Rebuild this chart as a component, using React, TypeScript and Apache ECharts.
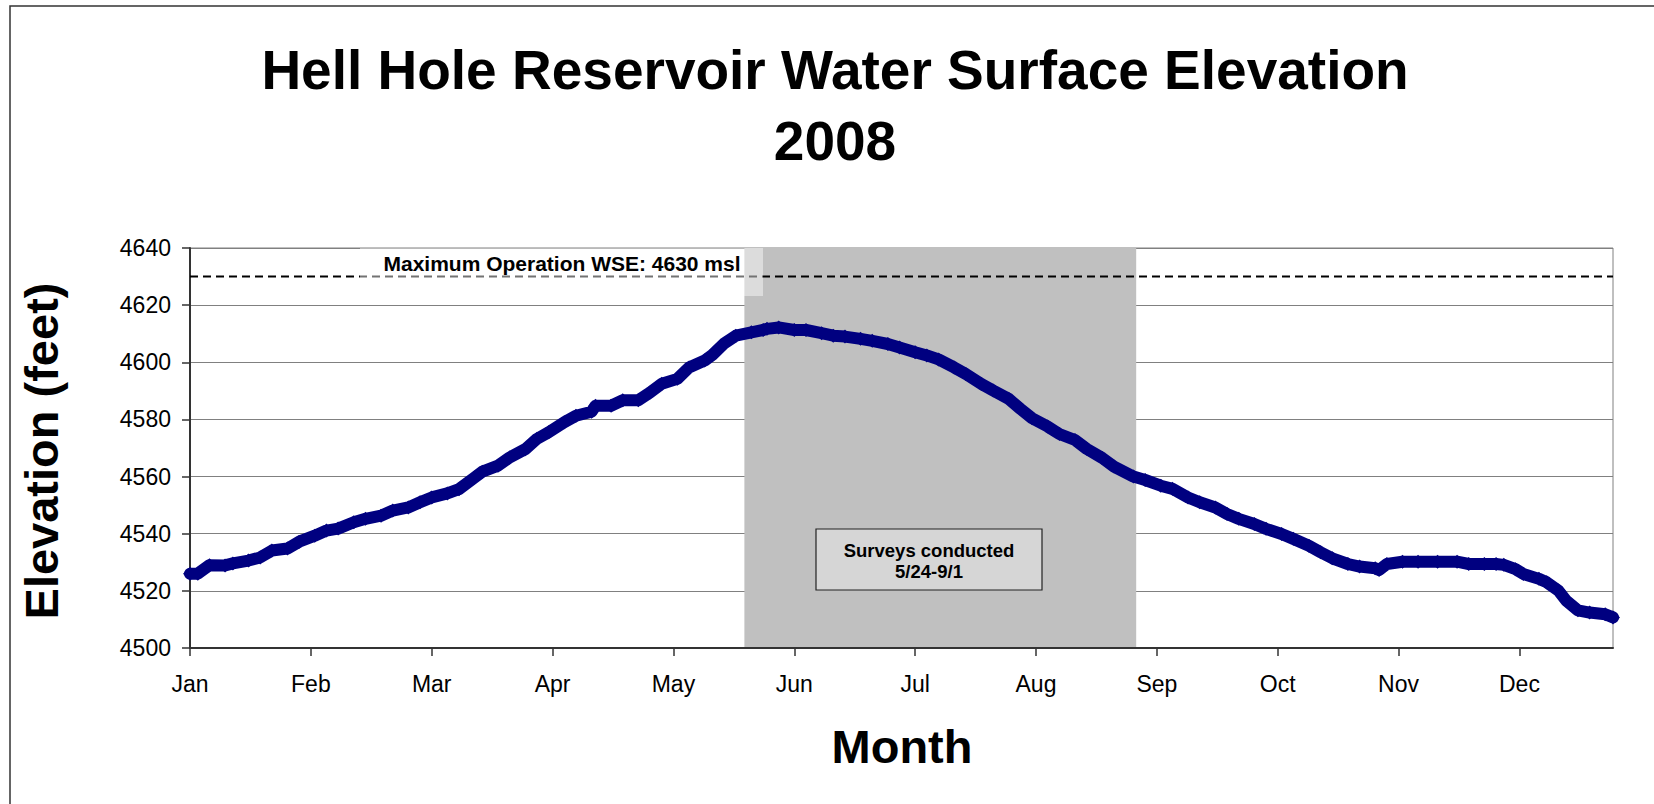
import React, { useEffect, useRef } from "react";
import * as echarts from "echarts";

// ---- Data ----
// Day of year 2008 (0 = Jan 1) and water surface elevation (feet)
const DAYS = [
  0, 2, 5, 9, 11, 15, 18, 21, 25, 28, 32, 35, 38, 42, 45, 49, 52, 56, 59, 62,
  66, 69, 73, 75, 79, 82, 86, 89, 92, 96, 99, 103, 104, 108, 111, 115, 118,
  121, 125, 128, 132, 134, 137, 140, 144, 147, 148, 151, 155, 158, 162, 165,
  168, 172, 175, 179, 182, 186, 189, 192, 196, 199, 203, 206, 210, 213, 216,
  220, 223, 227, 230, 234, 237, 242, 245, 249, 252, 256, 259, 263, 266, 269,
  273, 276, 280, 283, 287, 290, 293, 297, 300, 304, 305, 307, 311, 315, 320,
  325, 328, 332, 335, 337, 340, 342, 346, 348, 351, 353, 356, 359, 363, 365,
];
const ELEVATION = [
  4526.0, 4526.0, 4529.0, 4528.9, 4529.6, 4530.6, 4531.7, 4534.1, 4534.8,
  4537.2, 4539.3, 4541.1, 4541.8, 4544.0, 4545.2, 4546.3, 4548.1, 4549.2,
  4551.0, 4552.7, 4554.1, 4555.6, 4559.7, 4561.7, 4563.8, 4566.7, 4569.6,
  4573.2, 4575.5, 4579.0, 4581.3, 4582.7, 4584.8, 4584.8, 4586.7, 4586.7,
  4589.4, 4592.5, 4594.2, 4598.2, 4600.6, 4602.6, 4606.6, 4609.3, 4610.5,
  4611.3, 4611.7, 4612.2, 4611.3, 4611.3, 4610.2, 4609.3, 4609.0, 4608.2,
  4607.5, 4606.4, 4605.2, 4603.5, 4602.4, 4601.0, 4598.2, 4595.9, 4592.4,
  4590.1, 4587.2, 4583.7, 4580.4, 4577.5, 4574.9, 4572.8, 4569.7, 4566.5,
  4563.5, 4560.0, 4558.8, 4556.8, 4555.7, 4552.7, 4551.0, 4549.2, 4546.9,
  4545.2, 4543.4, 4541.7, 4539.9, 4538.2, 4535.8, 4533.5, 4531.4, 4529.4,
  4528.5, 4527.9, 4527.3, 4529.4, 4530.2, 4530.2, 4530.2, 4530.2, 4529.4,
  4529.4, 4529.4, 4529.1, 4527.6, 4525.9, 4524.2, 4523.0, 4520.1, 4516.6,
  4513.2, 4512.4, 4511.8, 4510.7,
];
const MONTHS = ["Jan", "Feb", "Mar", "Apr", "May", "Jun", "Jul", "Aug", "Sep", "Oct", "Nov", "Dec"];
const TICK_DAYS = [0, 31, 62, 93, 124, 155, 186, 217, 248, 279, 310, 341];
const X_MIN = 0;
const X_MAX = 365;
const Y_MIN = 4500;
const Y_MAX = 4640;
const Y_STEP = 20;
const MAX_WSE = 4630;
const SURVEY_START_DAY = 142.2;
const SURVEY_END_DAY = 242.7;

const TITLE_LINE1 = "Hell Hole Reservoir Water Surface Elevation";
const TITLE_LINE2 = "2008";
const X_TITLE = "Month";
const Y_TITLE = "Elevation (feet)";
const MAX_LABEL = "Maximum Operation WSE: 4630 msl";
const SURVEY_LABEL = "Surveys conducted\n5/24-9/1";

const FONT = '"Liberation Sans", Arial, Helvetica, sans-serif';

export default function App() {
  const ref = useRef<HTMLDivElement>(null);

  useEffect(() => {
    if (!ref.current) return;
    const chart = echarts.init(ref.current, null, { renderer: "svg" });
    const seriesData = DAYS.map((d, i) => [d, ELEVATION[i]]);

    chart.setOption({
      animation: false,
      backgroundColor: "#ffffff",
      textStyle: { fontFamily: FONT },
      grid: {
        left: 190,
        top: 248,
        right: 41,
        bottom: 156,
        show: true,
        borderColor: "#808080",
        borderWidth: 1,
        backgroundColor: "transparent",
        z: 1,
      },
      xAxis: {
        type: "value",
        min: X_MIN,
        max: X_MAX,
        z: 1,
        axisLine: { show: true, onZero: false, lineStyle: { color: "#333333", width: 2 } },
        axisTick: {
          show: true,
          customValues: TICK_DAYS,
          length: 8,
          lineStyle: { color: "#333333", width: 1.5 },
        },
        axisLabel: {
          customValues: TICK_DAYS,
          formatter: (v: number) => {
            const i = TICK_DAYS.indexOf(v);
            return i >= 0 ? MONTHS[i] : "";
          },
          color: "#000000",
          fontSize: 23,
          fontFamily: FONT,
          margin: 24,
        },
        splitLine: { show: false },
      },
      yAxis: {
        type: "value",
        min: Y_MIN,
        max: Y_MAX,
        interval: Y_STEP,
        z: 1,
        axisLine: { show: true, onZero: false, lineStyle: { color: "#333333", width: 2 } },
        axisTick: { show: true, length: 8, lineStyle: { color: "#333333", width: 1.5 } },
        axisLabel: {
          color: "#000000",
          fontSize: 23,
          fontFamily: FONT,
          margin: 19,
          formatter: (v: number) => String(v),
        },
        splitLine: { show: true, lineStyle: { color: "#808080", width: 1 } },
      },
      series: [
        {
          name: "survey",
          type: "line",
          data: [],
          z: 0,
          silent: true,
          markArea: {
            silent: true,
            itemStyle: { color: "#c0c0c0" },
            data: [[{ xAxis: SURVEY_START_DAY }, { xAxis: SURVEY_END_DAY }]],
          },
        },
        {
          name: "max",
          type: "line",
          data: [
            [X_MIN, MAX_WSE],
            [X_MAX, MAX_WSE],
          ],
          symbol: "none",
          z: 2,
          silent: true,
          lineStyle: { color: "#000000", width: 2, type: [8, 5] },
        },
        {
          name: "elevation",
          type: "line",
          data: seriesData,
          z: 3,
          symbol: "diamond",
          symbolSize: 14,
          itemStyle: { color: "#000080" },
          lineStyle: { color: "#000080", width: 12, join: "round", cap: "round" },
        },
      ],
      graphic: [
        {
          type: "rect",
          z: 100,
          silent: true,
          shape: { x: 10, y: 6, width: 1660, height: 830 },
          style: { fill: "none", stroke: "#333333", lineWidth: 1.5 },
        },
        {
          type: "text",
          z: 100,
          x: 835,
          y: 70,
          style: {
            text: TITLE_LINE1,
            font: `bold 55px ${FONT}`,
            fill: "#000000",
            align: "center",
            verticalAlign: "middle",
          },
        },
        {
          type: "text",
          z: 100,
          x: 835,
          y: 141,
          style: {
            text: TITLE_LINE2,
            font: `bold 55px ${FONT}`,
            fill: "#000000",
            align: "center",
            verticalAlign: "middle",
          },
        },
        {
          type: "text",
          z: 100,
          x: 902,
          y: 746,
          style: {
            text: X_TITLE,
            font: `bold 47px ${FONT}`,
            fill: "#000000",
            align: "center",
            verticalAlign: "middle",
          },
        },
        {
          type: "text",
          z: 100,
          x: 41,
          y: 451,
          rotation: Math.PI / 2,
          style: {
            text: Y_TITLE,
            font: `bold 47px ${FONT}`,
            fill: "#000000",
            align: "center",
            verticalAlign: "middle",
          },
        },
        {
          type: "rect",
          z: 100,
          silent: true,
          shape: { x: 360, y: 248, width: 403, height: 48 },
          style: { fill: "rgba(255,255,255,0.45)" },
        },
        {
          type: "text",
          z: 101,
          x: 562,
          y: 263,
          style: {
            text: MAX_LABEL,
            font: `bold 21px ${FONT}`,
            fill: "#000000",
            align: "center",
            verticalAlign: "middle",
          },
        },
        {
          type: "rect",
          z: 100,
          silent: true,
          shape: { x: 816, y: 529, width: 226, height: 61 },
          style: { fill: "#d6d6d6", stroke: "#222222", lineWidth: 1.2 },
        },
        {
          type: "text",
          z: 101,
          x: 929,
          y: 561,
          style: {
            text: SURVEY_LABEL,
            font: `bold 18.5px ${FONT}`,
            lineHeight: 21.5,
            fill: "#000000",
            align: "center",
            verticalAlign: "middle",
          },
        },
      ],
    });

    return () => {
      chart.dispose();
    };
  }, []);

  return (
    <div
      ref={ref}
      style={{ position: "fixed", left: 0, top: 0, width: 1654, height: 804, background: "#fff" }}
    />
  );
}
